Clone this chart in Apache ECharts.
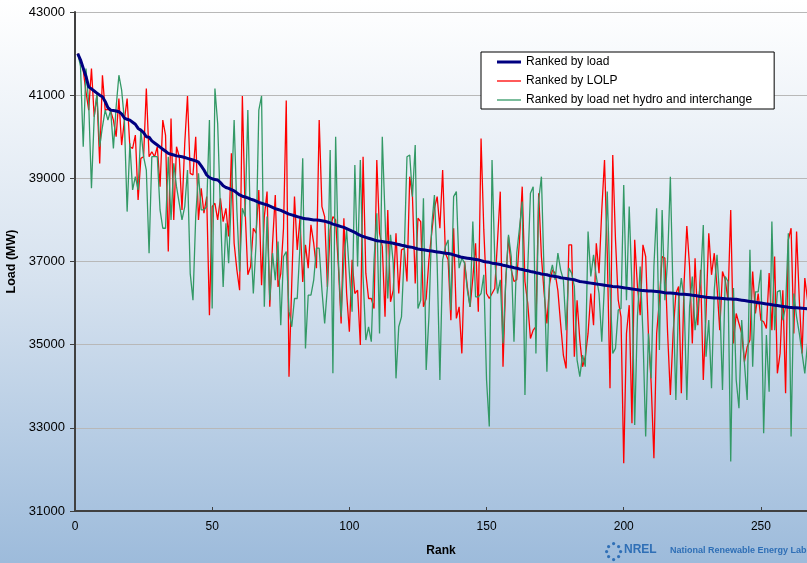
<!DOCTYPE html>
<html>
<head>
<meta charset="utf-8">
<script src="https://cdn.jsdelivr.net/npm/echarts@6/dist/echarts.min.js"></script>
<style>
html,body{margin:0;padding:0;}
#chart{width:807px;height:563px;}
</style>
</head>
<body>
<div id="chart"></div>
<script>
var seriesNames = ['Ranked by load', 'Ranked by LOLP', 'Ranked by load net hydro and interchange'];
var xTickLabels = [0, 50, 100, 150, 200, 250];
var yTickLabels = [31000, 33000, 35000, 37000, 39000, 41000, 43000];

// Ranked by load (rank 1..267)
var byLoad = [
42000,41850,41650,41450,41200,41150,41100,41050,41000,40960,
40850,40700,40640,40630,40620,40600,40550,40450,40420,40400,
40350,40300,40200,40160,40100,40000,39990,39900,39850,39800,
39750,39700,39650,39600,39580,39560,39540,39530,39520,39500,
39480,39460,39440,39420,39390,39300,39200,39080,39020,38990,
38970,38960,38900,38820,38780,38760,38730,38700,38650,38600,
38570,38550,38530,38500,38480,38450,38420,38400,38380,38360,
38330,38300,38270,38250,38230,38200,38170,38140,38120,38100,
38080,38060,38040,38030,38020,38010,38000,38000,37990,37980,
37970,37950,37930,37900,37880,37860,37840,37820,37790,37760,
37730,37700,37660,37630,37600,37580,37560,37540,37520,37500,
37490,37480,37470,37460,37450,37440,37420,37410,37390,37380,
37360,37350,37340,37320,37300,37290,37280,37270,37260,37250,
37240,37230,37220,37210,37200,37190,37180,37160,37140,37120,
37100,37090,37080,37070,37060,37050,37040,37020,37000,36990,
36980,36960,36950,36940,36930,36910,36900,36880,36870,36850,
36840,36820,36810,36790,36780,36760,36750,36730,36720,36700,
36690,36680,36660,36650,36640,36630,36610,36600,36590,36580,
36570,36560,36540,36520,36510,36500,36490,36480,36470,36460,
36450,36440,36430,36420,36410,36400,36395,36390,36380,36370,
36360,36350,36340,36330,36320,36310,36300,36295,36290,36290,
36285,36280,36270,36260,36250,36245,36240,36235,36230,36220,
36215,36210,36205,36200,36190,36180,36170,36160,36150,36140,
36135,36130,36125,36120,36115,36110,36105,36100,36100,36095,
36090,36080,36070,36060,36050,36040,36030,36020,36010,36000,
35990,35980,35970,35960,35950,35940,35930,35920,35910,35900,
35895,35890,35885,35880,35875,35870,35860
];

// Ranked by LOLP
var byLOLP = [
42000,41850,41600,41080,40640,41640,40480,41000,39360,41480,
40640,40660,40620,40400,40000,40920,39800,40400,40920,39760,
39720,40040,38480,39480,39520,41160,39520,39640,39520,39760,
38800,40400,40040,37240,40440,38000,39760,39520,38240,39840,
40980,39120,39080,40000,38000,
38760,38160,38560,35710,38320,38400,38000,38520,37960,38280,
37600,39600,37440,36800,36310,40980,38240,36680,36880,37800,
37680,38720,36430,38080,38680,35910,37440,38600,36390,36710,
37800,40870,34230,36470,38560,37280,38040,36510,37400,36840,
37880,37440,36840,40400,38320,38080,
36390,37760,38080,38000,36880,35510,38040,36230,35310,37040,
36230,36310,34990,39520,36720,36110,36110,35870,39440,37680,
37360,35670,38240,36030,36310,37680,36230,37280,37320,36520,
39040,38560,36470,38040,37960,35910,36110,37040,37680,38280,
38560,37800,39200,37200,37040,
35590,37800,35630,35910,34790,37000,36390,35910,36600,37440,
35790,39960,37760,36230,36110,36230,36350,37500,38680,34470,
36560,37600,36800,36520,36560,37500,38800,36520,36000,35150,
35350,35430,38640,37120,36230,35510,36470,36800,36720,36300,
35500,34750,34430,37400,37400,34710,
36070,35110,34470,34710,35270,36230,35470,37440,36720,38240,
39440,37200,33950,39560,37520,36070,35670,32150,35270,35950,
33110,37520,36400,35710,37400,37120,35270,34070,32270,35270,
36070,37120,37080,35270,33790,35270,36230,36400,33830,36480,
37850,36880,35030,37080,35470,36800,
34150,35750,37680,36680,37200,36400,35350,36760,36560,36070,
38240,35030,35750,35510,35270,34590,34950,35110,36760,35750,
36230,35590,35550,35390,36720,35350,37120,34310,34790,36310,
33830,37520,37800,35270,37720,36070,34790,36600,36070
];

// Ranked by load net hydro and interchange
var byNet = [
42000,41700,39760,41640,40800,38760,40480,41040,39760,40240,
40640,40400,40640,39720,40720,41480,41120,40400,38200,39840,
38720,39040,38720,40160,39520,39200,37200,39520,39520,39520,
38240,37800,37800,39520,38000,39360,38800,38400,38000,38320,
39200,36710,36070,38080,39120,
38240,38240,38320,40400,35870,41160,40320,38240,36390,37920,
36960,38560,40400,38240,36760,38280,38080,40640,37600,36230,
37440,40640,40980,35910,38080,36070,37200,36550,37480,35470,
37120,37240,35800,35430,36110,36110,37360,39480,34910,36190,
36190,36550,37320,37320,36310,35510,
36390,39680,34310,40000,37040,35670,37040,37760,36720,35790,
39320,36880,39440,36640,35110,35430,35070,37040,38160,35270,
40000,38080,36110,37640,36960,34190,35430,35670,37200,39520,
39560,38560,39800,35870,36070,38520,34390,35670,37840,38600,
36960,34150,37040,37360,37520,
35830,38560,38680,36840,37080,36960,36310,35910,37960,36150,
36150,36230,36680,34150,33030,39440,37040,36230,36560,35030,
36520,37640,37120,35070,37200,37800,38440,33790,36800,38640,
38800,34790,38480,39040,36640,34350,36640,36920,36560,37200,
36800,36560,35350,36840,36720,36400,
34630,34230,34750,34470,37720,36640,37160,36640,36230,35070,
36480,38680,36400,34790,34910,35830,35870,38840,36070,38320,
36400,33070,35670,36880,35270,32790,35270,34190,36880,38280,
34870,38240,36070,37040,39040,36150,33670,36070,36600,36070,
33670,35910,36640,35350,35910,36500,
37880,34710,35590,33950,36310,37160,36070,33910,36640,36520,
32190,36360,34150,33470,35590,34550,33670,37280,34470,36270,
36270,36800,32870,35230,33870,37960,35350,36270,36310,35590,
35910,37680,32790,36230,35670,35270,34790,34310,35030
];

function toPairs(arr) { return arr.map(function (v, i) { return [i + 1, v]; }); }

var font = "'Liberation Sans', Arial, sans-serif";
var chart = echarts.init(document.getElementById('chart'));
chart.setOption({
  backgroundColor: {
    type: 'linear', x: 0, y: 0, x2: 0, y2: 1,
    colorStops: [{offset: 0, color: '#ffffff'}, {offset: 0.5, color: '#d6e2ef'}, {offset: 1, color: '#9dbbdb'}]
  },
  animation: false,
  grid: {left: 75, top: 12, right: 0, bottom: 52, containLabel: false, outerBoundsMode: 'none'},
  legend: {
    left: 481, top: 52, orient: 'vertical',
    backgroundColor: '#ffffff', borderColor: '#000000', borderWidth: 1,
    padding: [4, 22, 3, 16], itemWidth: 24, itemHeight: 14, itemGap: 7,
    symbolKeepAspect: true,
    textStyle: {fontSize: 12, color: '#000', fontFamily: font},
    data: [
      {name: seriesNames[0], icon: 'path://M0 0H24V3H0Z', itemStyle: {color: '#000080'}},
      {name: seriesNames[1], icon: 'path://M0 0H24V1.3H0Z', itemStyle: {color: '#ff0000'}},
      {name: seriesNames[2], icon: 'path://M0 0H24V1.3H0Z', itemStyle: {color: '#339966'}}
    ]
  },
  xAxis: {
    type: 'value', min: 0, max: 266.8, interval: 50,
    name: 'Rank', nameLocation: 'middle', nameGap: 34,
    nameTextStyle: {fontSize: 12, fontWeight: 'bold', color: '#000', fontFamily: font},
    axisLine: {show: true, lineStyle: {color: '#404040', width: 2}},
    axisTick: {show: true, inside: true, length: 4, lineStyle: {color: '#404040'}},
    axisLabel: {
      fontSize: 12, color: '#000', fontFamily: font, margin: 10, showMaxLabel: false,
      formatter: function (v) { return xTickLabels.indexOf(v) >= 0 ? String(v) : ''; }
    },
    splitLine: {show: false}
  },
  yAxis: {
    type: 'value', min: 31000, max: 43000, interval: 2000,
    name: 'Load (MW)', nameLocation: 'middle', nameGap: 48,
    nameTextStyle: {fontSize: 12.5, fontWeight: 'bold', color: '#000', fontFamily: font},
    axisLine: {show: true, lineStyle: {color: '#404040', width: 2}},
    axisTick: {show: true, inside: false, length: 5, lineStyle: {color: '#404040'}},
    axisLabel: {
      fontSize: 13, color: '#000', fontFamily: font, margin: 10,
      formatter: function (v) { return yTickLabels.indexOf(v) >= 0 ? String(v) : ''; }
    },
    splitLine: {show: true, lineStyle: {color: '#b8b8b8', width: 1}}
  },
  graphic: [
    {type: 'circle', left: 607, top: 545, shape: {r: 1.6}, style: {fill: '#2f6fb6'}},
    {type: 'circle', left: 612, top: 542, shape: {r: 1.6}, style: {fill: '#2f6fb6'}},
    {type: 'circle', left: 617, top: 545, shape: {r: 1.6}, style: {fill: '#2f6fb6'}},
    {type: 'circle', left: 605, top: 550, shape: {r: 1.6}, style: {fill: '#2f6fb6'}},
    {type: 'circle', left: 619, top: 550, shape: {r: 1.6}, style: {fill: '#2f6fb6'}},
    {type: 'circle', left: 607, top: 555, shape: {r: 1.6}, style: {fill: '#2f6fb6'}},
    {type: 'circle', left: 612, top: 558, shape: {r: 1.6}, style: {fill: '#2f6fb6'}},
    {type: 'circle', left: 617, top: 555, shape: {r: 1.6}, style: {fill: '#2f6fb6'}},
    {type: 'text', left: 624, top: 544, style: {text: 'NREL', fill: '#2f6fb6', font: 'bold 12px ' + font}},
    {type: 'text', left: 670, top: 546, style: {text: 'National Renewable Energy Lab', fill: '#2f6fb6', font: 'bold 9px ' + font}}
  ],
  series: [
    {
      name: seriesNames[0], type: 'line', data: toPairs(byLoad), symbol: 'none', z: 5,
      lineStyle: {color: '#000080', width: 3}, itemStyle: {color: '#000080'}
    },
    {
      name: seriesNames[1], type: 'line', data: toPairs(byLOLP), symbol: 'none', z: 3,
      lineStyle: {color: '#ff0000', width: 1.3}, itemStyle: {color: '#ff0000'}
    },
    {
      name: seriesNames[2], type: 'line', data: toPairs(byNet), symbol: 'none', z: 4,
      lineStyle: {color: '#339966', width: 1.3}, itemStyle: {color: '#339966'}
    }
  ]
});
</script>
</body>
</html>
